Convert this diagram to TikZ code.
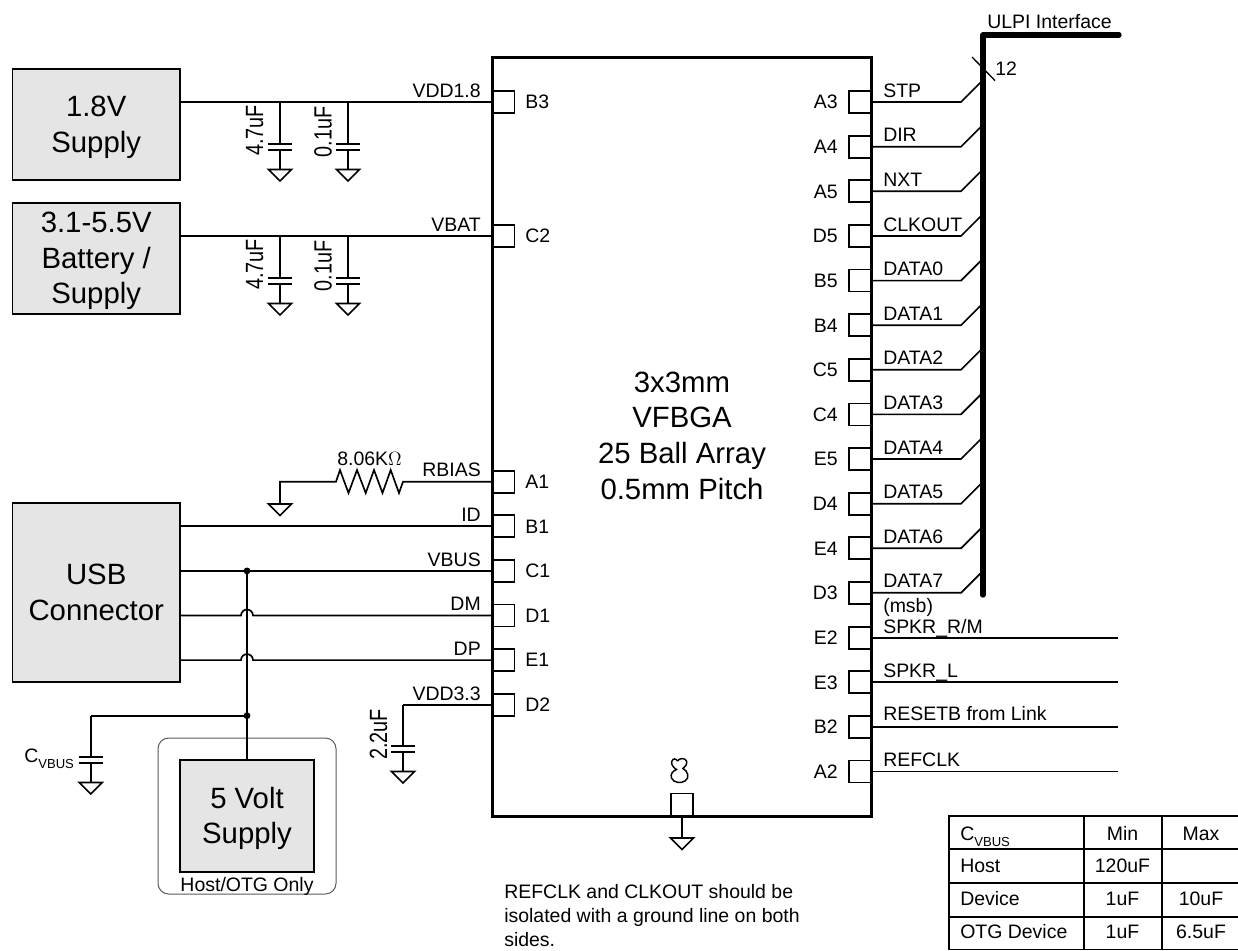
\documentclass[tikz,border=0pt]{standalone}
\usepackage{fontspec}
\setmainfont{Liberation Sans}
\usetikzlibrary{calc}
\newcommand{\bigtxt}{\fontsize{22}{26.8}\selectfont}
\newcommand{\midtxt}{\fontsize{14.6}{17.9}\selectfont}
\begin{document}
\begin{tikzpicture}[x=0.75pt,y=-0.75pt,
  wire/.style={line width=1.25pt,line join=miter},
  heavy/.style={line width=2.25pt},
  busline/.style={line width=4pt,line cap=round,line join=round},
  block/.style={draw,line width=1.25pt,fill=black!10,inner sep=0pt,outer sep=0pt},
  blocktext/.style={font=\bigtxt,align=center,inner sep=0pt},
  pinbox/.style={draw,line width=1.25pt,fill=white,minimum width=16.5pt,minimum height=16.5pt,inner sep=0pt,outer sep=0pt},
  lbl/.style={font=\midtxt,inner sep=0pt},
  wl/.style={lbl,anchor=base east},
  wr/.style={lbl,anchor=base west},
  pl/.style={lbl,anchor=base west},
  pr/.style={lbl,anchor=base east},
  tcell/.style={lbl,anchor=base},
  tleft/.style={lbl,anchor=base west},
  capv/.style={lbl,rotate=90,anchor=base}]
\useasboundingbox (0,0) rectangle (1238,950);

% pins (drawn first, the body outline lies over their inner edge)
\foreach \n/\y in {B3/102,C2/236,A1/481.7,B1/526.3,C1/570.9,D1/615.5,E1/660.1,D2/704.7}{
  \node[pinbox] (p\n) at (503.5,\y) {};
  \coordinate (w\n) at (492,\y);
  \node[pl] (t\n) at (525,\y+6.8) {\n};
}
\foreach \n/\y in {A3/102,A4/146.7,A5/191.3,D5/236,B5/280.6,B4/325.2,C5/369.8,C4/414.4,E5/459,D4/503.7,E4/548.3,D3/592.8,E2/637.7,E3/682.3,B2/727,A2/771.6}{
  \node[pinbox] (p\n) at (860,\y) {};
  \coordinate (w\n) at (871,\y);
  \node[pr] (t\n) at (838,\y+6.8) {\n};
}
\node[pinbox] (pG) at (682,804.5) {};

% body
\node[minimum width=284.25pt,minimum height=568.9pt,inner sep=0pt,outer sep=0pt,anchor=north west] (chip) at (492,57.5) {};
\node[blocktext] (chiptext) at (682,435.5) {3x3mm\\VFBGA\\25 Ball Array\\0.5mm Pitch};

% supply blocks
\node[block,minimum width=125.6pt,minimum height=83.5pt] (s18) at (96.2,124.5) {};
\node[blocktext] (s18t) at (96.2,127) {1.8V\\Supply};
\node[block,minimum width=125.6pt,minimum height=83.5pt] (sbat) at (96.2,258.5) {};
\node[blocktext] (sbatt) at (96.2,261) {3.1-5.5V\\Battery /\\Supply};
\node[block,minimum width=125.6pt,minimum height=134.3pt] (usb) at (96.2,592.5) {};
\node[blocktext] (usbt) at (96.2,592.5) {USB\\Connector};
\node[draw=black!65,line width=0.75pt,rounded corners=8pt,minimum width=133.5pt,minimum height=117pt,inner sep=0pt] (host) at (247,816) {};
\node[block,minimum width=100.5pt,minimum height=84pt] (s5) at (247,816) {};
\node[blocktext] (s5t) at (247,818.5) {5 Volt\\Supply};
\node[font=\midtxt,inner sep=0pt,anchor=base] (hosttext) at (247,891) {Host/OTG Only};

% left wires
\draw[wire] (wB3) -- (wB3-|s18.east);
\draw[wire] (wC2) -- (wC2-|sbat.east);
\draw[wire] (wB1) -- (wB1-|usb.east);
\draw[wire] (wC1) -- (wC1-|usb.east);
\coordinate (jV) at (247,570.9);
\coordinate (jC) at (247,715.7);
\draw[wire] (usb.east|-wD1) -- (241,615.5) arc (180:360:6 and 6) -- (wD1);
\draw[wire] (usb.east|-wE1) -- (241,660.1) arc (180:360:6 and 6) -- (wE1);
\draw[wire] (jV) -- (s5.north);
\fill (jV) circle (3.4);
\fill (jC) circle (3.4);

% capacitors with grounds: \capgnd{x}{wire y}{plate y}
\newcommand{\capgnd}[3]{
  \coordinate (ca) at (#1,#2);
  \coordinate (cb) at (#1,#3);
  \coordinate (cc) at (#1,#3+6);
  \coordinate (cd) at (#1,#3+25.5);
  \draw[wire] (ca) -- (cb);
  \draw[wire] (cc) -- (cd);
  \draw[wire] (#1-12,#3) -- (#1+12,#3);
  \draw[wire] (#1-12,#3+6) -- (#1+12,#3+6);
  \draw[wire,line join=miter] (#1-11.5,#3+25.5) -- (#1+11.5,#3+25.5) -- (#1,#3+37) -- cycle;
}
\capgnd{280}{102}{144}
\capgnd{348}{102}{144}
\capgnd{280}{236}{278}
\capgnd{348}{236}{278}
\coordinate (cv) at (90.7,715.7);
\draw[wire] (jC) -- (cv);
\capgnd{90.7}{715.7}{757}
\coordinate (v33) at (403,704.7);
\draw[wire] (wD2) -- (v33);
\capgnd{403}{704.7}{746}

% bias resistor
\coordinate (rg) at (280,481.7);
\coordinate (rgb) at (280,504);
\draw[wire,line join=miter] (wA1) -- (403,481.7) -- (399,493) -- (390.7,470) -- (382.5,493) -- (374,470) -- (365.7,493) -- (357,470) -- (348.5,493) -- (340,470) -- (336,481.7) -- (rg) -- (rgb);
\draw[wire,line join=miter] (268.5,504) -- (291.5,504) -- (280,515.5) -- cycle;
\node[lbl,anchor=base] (rval) at (369.5,465) {8.06K$\Omega$};

% bottom pin ground
\coordinate (gb) at (682,838);
\draw[wire] (pG.south) -- (gb);
\draw[wire,line join=miter] (670.5,838) -- (693.5,838) -- (682,849.5) -- cycle;

% body outline over pins again
\draw[heavy,line join=miter] (chip.north west) rectangle (chip.south east);

% symbol over the bottom pin
\draw[line width=1.1pt] (677.5,761) .. controls (679,758) and (685,757.5) .. (686.5,761) .. controls (687.5,764.5) and (685,767) .. (683,768.5) .. controls (688,771) and (690,778) .. (685,781) .. controls (681,783.5) and (673.5,783) .. (671.5,778) .. controls (670,774) and (673,771) .. (676.5,769.5) .. controls (673,767.5) and (670.5,763.5) .. (672,761) .. controls (673,758) and (676,758.5) .. (677.5,761);

% left labels
\node[wl] at (481,97.5) {VDD1.8};
\node[wl] at (481,231.5) {VBAT};
\node[wl] at (481,476.3) {RBIAS};
\node[wl] at (481,521.3) {ID};
\node[wl] at (481,566) {VBUS};
\node[wl] at (481,610.5) {DM};
\node[wl] at (481,655) {DP};
\node[wl] at (481,700) {VDD3.3};

% capacitor values
\foreach \yy in {0,134}{
  \node[capv] at (263,130.5+\yy) {\scalebox{1.02}[1.28]{4.7uF}};
  \node[capv] at (331.7,132+\yy) {\scalebox{1.02}[1.28]{0.1uF}};
}
\node[capv] at (387,734.5) {\scalebox{1.02}[1.28]{2.2uF}};
\node[lbl,anchor=base west] at (24,762) {C\raisebox{-4.5pt}{\fontsize{9.8}{10}\selectfont VBUS}};

% bus
\coordinate (busE) at (1119,35);
\coordinate (busC) at (983,35);
\coordinate (busS) at (983,595);
\draw[busline] (busE) -- (busC) -- (busS);
\coordinate (tk1) at (972,57);
\coordinate (tk2) at (995,80.6);
\draw[line width=1pt] (tk1) -- (tk2);
\node[lbl,anchor=base west] at (995,75) {12};
\node[lbl,anchor=base west] at (987,28) {ULPI Interface};

% bus entries
\foreach \n/\t in {A3/STP,A4/DIR,A5/NXT,D5/CLKOUT,B5/DATA0,B4/DATA1,C5/DATA2,C4/DATA3,E5/DATA4,D4/DATA5,E4/DATA6,D3/DATA7}{
  \coordinate (e\n) at ($(w\n)+(90,0)$);
  \coordinate (f\n) at ($(w\n)+(110,-20)$);
  \draw[wire] (w\n) -- (e\n) -- (f\n);
  \node[wr] at ($(w\n)+(12,-5)$) {\t};
}
\node[wr] at (883,612) {(msb)};

% plain outputs
\coordinate (oEnd) at (1118,0);
\foreach \n/\t/\b in {E2/SPKR\_R\slash M/633.5,E3/SPKR\_L/677,B2/RESETB from Link/720.5,A2/REFCLK/766.5}{
  \draw[wire] (w\n) -- (w\n-|oEnd);
  \node[wr] at (883,\b) {\t};
}

% note
\node[font=\midtxt,inner sep=0pt,align=left,anchor=base west] at (504,946.5) {REFCLK and CLKOUT should be\\isolated with a ground line on both\\sides.};

% table
\draw[line width=1.3pt] (949.3,950) -- (949.3,816) -- (1238,816);
\foreach \y in {849.3,882.7,916.7,949.5}{\draw[line width=1.3pt] (949.3,\y) -- (1238,\y);}
\foreach \x in {1083.7,1161.7}{\draw[line width=1.3pt] (\x,816) -- (\x,950);}
\node[tleft] at (960,840) {C\raisebox{-4.5pt}{\fontsize{9.8}{10}\selectfont VBUS}};
\node[tcell] at (1122.5,840) {Min};
\node[tcell] at (1201,840) {Max};
\node[tleft] at (960,872) {Host};
\node[tcell] at (1122.5,872) {120uF};
\node[tleft] at (960,905.5) {Device};
\node[tcell] at (1122.5,905.5) {1uF};
\node[tcell] at (1201,905.5) {10uF};
\node[tleft] at (960,938.5) {OTG Device};
\node[tcell] at (1122.5,938.5) {1uF};
\node[tcell] at (1201,938.5) {6.5uF};
\end{tikzpicture}
\end{document}
